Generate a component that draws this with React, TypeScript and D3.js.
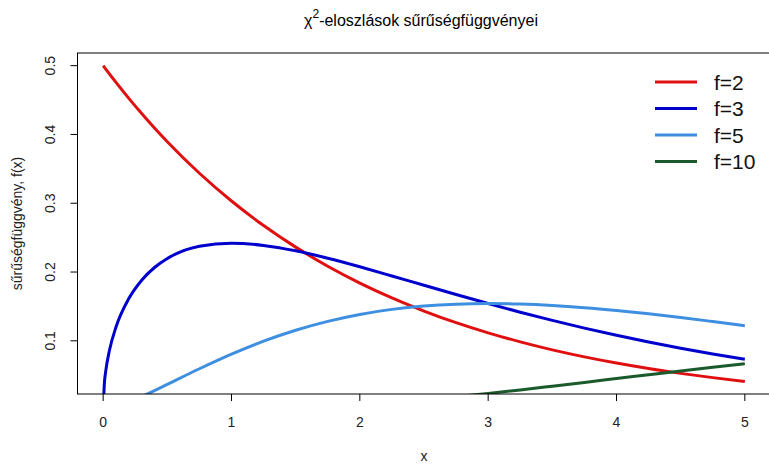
import React from "react";
import * as d3 from "d3";

const xs = [0, 0.01, 0.02, 0.05, 0.1, 0.2, 0.3, 0.4, 0.5, 0.75, 1, 1.25, 1.5, 1.75, 2, 2.25, 2.5, 2.75, 3, 3.25, 3.5, 3.75, 4, 4.25, 4.5, 4.75, 5];
const f2 = [0.5, 0.4975, 0.495, 0.4877, 0.4756, 0.4524, 0.4304, 0.4094, 0.3894, 0.3436, 0.3033, 0.2676, 0.2362, 0.2084, 0.1839, 0.1623, 0.1433, 0.1264, 0.1116, 0.0985, 0.0869, 0.0767, 0.0677, 0.0597, 0.0527, 0.0465, 0.041];
const f3 = [0, 0.0397, 0.0559, 0.087, 0.12, 0.1614, 0.1881, 0.2066, 0.2197, 0.2375, 0.242, 0.2387, 0.2308, 0.22, 0.2076, 0.1943, 0.1807, 0.1673, 0.1542, 0.1416, 0.1297, 0.1185, 0.108, 0.0982, 0.0892, 0.0809, 0.0732];
const f5 = [0, 0.00013, 0.00037, 0.0015, 0.004, 0.0108, 0.0188, 0.0275, 0.0366, 0.0594, 0.0807, 0.0995, 0.1154, 0.1283, 0.1384, 0.1457, 0.1506, 0.1533, 0.1542, 0.1534, 0.1513, 0.1481, 0.144, 0.1392, 0.1338, 0.128, 0.122];
const f10 = [0, 0, 0, 0, 0, 0, 0, 0, 0.00006, 0.0003, 0.0008, 0.0017, 0.0031, 0.0051, 0.0077, 0.0108, 0.0146, 0.0188, 0.0235, 0.0286, 0.034, 0.0395, 0.0451, 0.0507, 0.0563, 0.0617, 0.0668];

const seriesNames = ["f=2", "f=3", "f=5", "f=10"];
const seriesValues = [f2, f3, f5, f10];
const seriesColors = ["#e01010", "#0000cd", "#3f8fe0", "#1b5a2c"];
const xTicks = [0, 1, 2, 3, 4, 5];
const yTicks = [0.1, 0.2, 0.3, 0.4, 0.5];

const W = 769, H = 465;
const left = 77.5, right = 770.5, top = 53, bottom = 394;

export default function App() {
  const x = d3.scaleLinear().domain([-0.2, 5.2]).range([left, right]);
  const y = d3.scaleLinear().domain([0.0227, 0.5184]).range([bottom, top]);
  const line = d3
    .line<number>()
    .x((_, i) => x(xs[i]))
    .y((d) => y(d))
    .curve(d3.curveMonotoneX);
  const font = "'Liberation Sans', Arial, sans-serif";
  return (
    <svg width={W} height={H} style={{ position: "absolute", left: 0, top: 0, background: "#fff" }} fontFamily={font}>
      <defs>
        <clipPath id="plotclip">
          <rect x={left} y={top} width={right - left} height={bottom - top} />
        </clipPath>
      </defs>
      <rect x={0} y={0} width={W} height={H} fill="#fff" />
      <text x={421} y={26} textAnchor="middle" fontSize={16} fill="#000">
        χ<tspan dy={-8} fontSize={12}>2</tspan>
        <tspan dy={8}>-eloszlások sűrűségfüggvényei</tspan>
      </text>
      <g clipPath="url(#plotclip)">
        {seriesValues.map((vals, k) => (
          <path key={k} d={line(vals) || ""} fill="none" stroke={seriesColors[k]} strokeWidth={3} strokeLinejoin="round" />
        ))}
      </g>
      <rect x={left} y={top} width={right - left} height={bottom - top} fill="none" stroke="#000" strokeWidth={1} />
      {xTicks.map((t) => (
        <g key={t}>
          <line x1={x(t)} x2={x(t)} y1={bottom} y2={bottom + 7} stroke="#000" />
          <text x={x(t)} y={427} textAnchor="middle" fontSize={14} fill="#222">{t}</text>
        </g>
      ))}
      {yTicks.map((t) => (
        <g key={t}>
          <line x1={left} x2={left - 7} y1={y(t)} y2={y(t)} stroke="#000" />
          <text transform={`translate(55,${y(t)}) rotate(-90)`} textAnchor="middle" fontSize={14} fill="#222">{t.toFixed(1)}</text>
        </g>
      ))}
      <text x={(left + right) / 2} y={461} textAnchor="middle" fontSize={14} fill="#222">x</text>
      <text transform={`translate(22,${(top + bottom) / 2}) rotate(-90)`} textAnchor="middle" fontSize={14} fill="#222">sűrűségfüggvény, f(x)</text>
      {seriesNames.map((n, k) => (
        <g key={n}>
          <line x1={655} x2={697} y1={82 + k * 26.5} y2={82 + k * 26.5} stroke={seriesColors[k]} strokeWidth={3} />
          <text x={714} y={82 + k * 26.5 + 7.5} fontSize={21} fill="#111">{n}</text>
        </g>
      ))}
    </svg>
  );
}
